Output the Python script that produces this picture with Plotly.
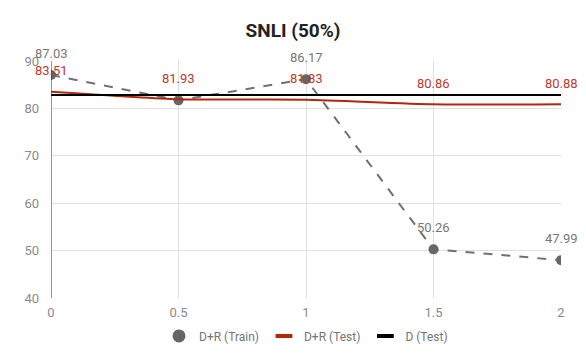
import plotly.graph_objects as go

x_vals = [0, 0.5, 1, 1.5, 2]
train = [87.03, 81.7, 86.17, 50.26, 47.99]
test = [83.51, 81.93, 81.83, 80.86, 80.88]
d_test = [82.83, 82.83, 82.83, 82.83, 82.83]
train_labels = ["87.03", "", "86.17", "50.26", "47.99"]
test_labels = ["83.51", "81.93", "81.83", "80.86", "80.88"]

GRAY = '#666666'
RED = '#b0290c'
RED_TXT = '#c0392b'

fig = go.Figure()

fig.add_trace(go.Scatter(
    x=x_vals, y=train, name='D+R (Train)', mode='lines+markers', showlegend=False,
    line=dict(color='#707070', width=2, dash='dash'),
    marker=dict(color=GRAY, size=10),
))
fig.add_trace(go.Scatter(
    x=x_vals, y=test, name='D+R (Test)', mode='lines', showlegend=False,
    line=dict(color=RED, width=2, shape='spline', smoothing=0.6),
))
fig.add_trace(go.Scatter(
    x=x_vals, y=d_test, name='D (Test)', mode='lines', showlegend=False,
    line=dict(color='black', width=2),
))

# legend-only entries (circle / short thick bars like the original)
legend_items = [('D+R (Train)', 'circle', GRAY), ('D+R (Test)', 'line-ew', RED), ('D (Test)', 'line-ew', 'black')]
for name, sym, col in legend_items:
    mk = dict(symbol=sym, color=col, size=13)
    if sym == 'line-ew':
        mk = dict(symbol=sym, color=col, size=12, line=dict(color=col, width=4))
    fig.add_trace(go.Scatter(x=[None], y=[None], name=name, mode='markers', marker=mk))

annotations = []
for xv, yv, t in zip(x_vals, train, train_labels):
    if t:
        annotations.append(dict(x=xv, y=yv, text=t, showarrow=False, yshift=22,
                                font=dict(color='#777777', size=13)))
for xv, yv, t in zip(x_vals, test, test_labels):
    annotations.append(dict(x=xv, y=yv, text=t, showarrow=False, yshift=21,
                            font=dict(color=RED_TXT, size=13)))

# page body has an 8px margin, so the figure is sized to fit inside the window
fig.update_layout(
    width=570, height=347,
    margin=dict(l=43, r=17, t=53, b=57, autoexpand=False),
    plot_bgcolor='white', paper_bgcolor='white',
    font=dict(family='Roboto', color='#8a8a8a', size=13),
    title=dict(text='<b>SNLI (50%)</b>', x=0.5, xanchor='center', y=0.935, yanchor='middle',
               font=dict(size=19, color='#222222')),
    annotations=annotations,
    legend=dict(orientation='h', x=0.5, xanchor='center', yref='container', y=0.055, yanchor='middle',
                itemwidth=30, font=dict(color='#757575', size=12)),
)
fig.update_xaxes(range=[0, 2], tickvals=x_vals, ticktext=['0', '0.5', '1', '1.5', '2'],
                 showgrid=True, gridcolor='#e0e0e0', zeroline=False,
                 showline=False, ticks='', ticklabelstandoff=5)
fig.update_yaxes(range=[40, 90], dtick=10, showgrid=True, gridcolor='#e0e0e0',
                 zeroline=False, showline=False, ticks='', ticklabelstandoff=11)
fig.add_vline(x=0, line=dict(color='#333333', width=1))

fig.write_html("out.html")
